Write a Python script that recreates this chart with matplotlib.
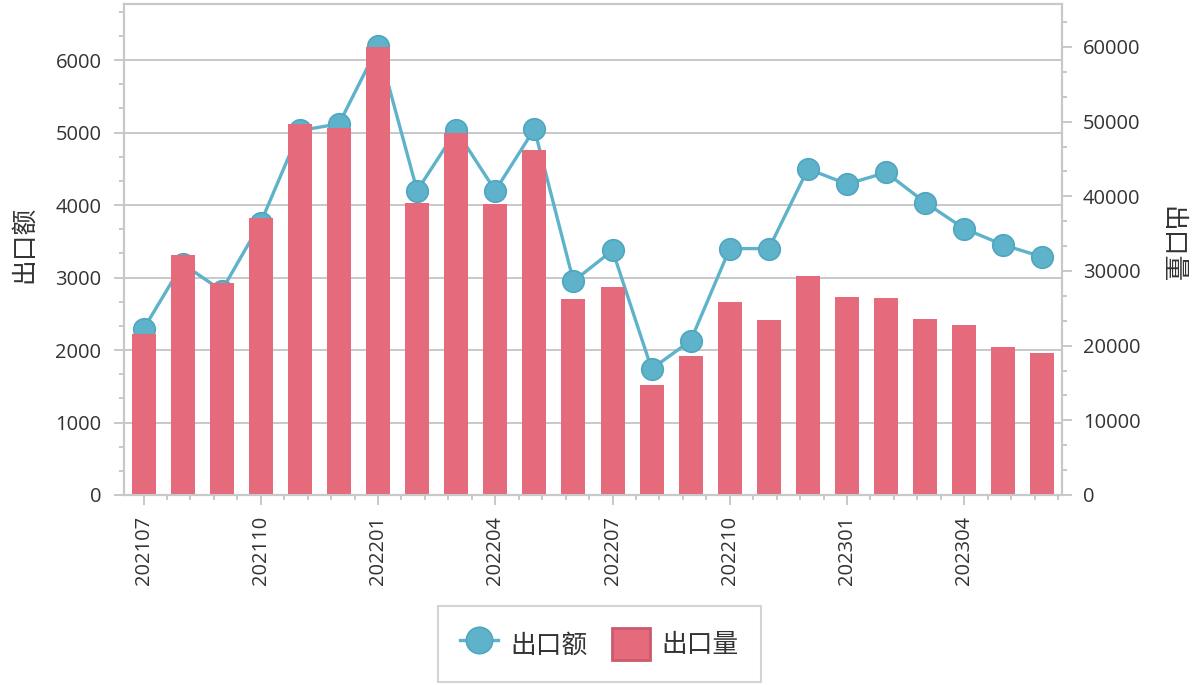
import matplotlib
matplotlib.use('Agg')
import matplotlib.pyplot as plt
from matplotlib.ticker import AutoMinorLocator, MultipleLocator
from matplotlib.lines import Line2D
from matplotlib.patches import Patch

months = ['202107', '202108', '202109', '202110', '202111', '202112',
          '202201', '202202', '202203', '202204', '202205', '202206',
          '202207', '202208', '202209', '202210', '202211', '202212',
          '202301', '202302', '202303', '202304', '202305', '202306']
# 出口额 (left axis)
export_value = [2290, 3190, 2820, 3760, 5030, 5120, 6190, 4200,
                5030, 4200, 5050, 2950, 3375, 1740, 2130, 3400,
                3400, 4500, 4290, 4450, 4035, 3675, 3450, 3285]
# 出口量 (right axis)
export_volume = [21570, 32080, 28410, 37050, 49660, 49130, 59950, 39150,
                 48420, 38930, 46170, 26310, 27920, 14770, 18660, 25910,
                 23490, 29260, 26580, 26440, 23580, 22820, 19870, 19060]

line_color = '#5eb3cb'
bar_color = '#e56a7c'
axis_gray = '#c8c8c8'
text_color = '#333333'
cjk = ['Noto Sans CJK SC', 'DejaVu Sans']

plt.rcParams['font.family'] = ['Open Sans', 'DejaVu Sans']

fig = plt.figure(figsize=(11.92, 6.85), dpi=100)
ax = fig.add_axes([124 / 1192, 1 - 495 / 685, (1062 - 124) / 1192, (495 - 4) / 685])
ax2 = ax.twinx()

x = list(range(len(months)))
ax.plot(x, export_value, color=line_color, lw=2.4, marker='o', markersize=15.5,
        markerfacecolor=line_color, markeredgecolor='#4ea6c0', markeredgewidth=1.2,
        zorder=3)
ax2.bar(x, export_volume, width=0.614, color=bar_color, zorder=2)

ax.set_xlim(-0.5, len(months) - 0.5)
ax.set_ylim(0, 6775)
ax2.set_ylim(0, 65750)

ax.set_xticks(range(0, len(months), 3))
ax.set_xticklabels([months[i] for i in range(0, len(months), 3)], rotation=90)
ax.xaxis.set_minor_locator(AutoMinorLocator(5))

ax.yaxis.set_major_locator(MultipleLocator(1000))
ax.yaxis.set_minor_locator(AutoMinorLocator(3))
ax2.yaxis.set_major_locator(MultipleLocator(10000))
ax2.yaxis.set_minor_locator(AutoMinorLocator(3))

ax.grid(axis='y', color=axis_gray, lw=1.4)
ax.set_axisbelow(True)

for a in (ax, ax2):
    for s in a.spines.values():
        s.set_color(axis_gray)
        s.set_linewidth(1.5)
    a.tick_params(which='major', length=7.2, width=1.4, color=axis_gray,
                  labelsize=14.5, labelcolor=text_color)
    a.tick_params(which='minor', length=3.6, width=1.4, color=axis_gray)
ax.tick_params(axis='y', pad=9)
ax.tick_params(axis='x', pad=8)
ax2.tick_params(axis='y', pad=8)

ax.set_ylabel('出口额', family=cjk, fontsize=18.5, color=text_color, va='center')
ax2.set_ylabel('出口量', family=cjk, fontsize=18.5, color=text_color,
               rotation=270, va='center')
ax.yaxis.set_label_coords(-0.106, 0.51)
ax2.yaxis.set_label_coords(1.117, 0.51)

handles = [
    Line2D([0], [0], color=line_color, lw=2.4, marker='o', markersize=19,
           markerfacecolor=line_color, markeredgecolor='#4ea6c0', markeredgewidth=1.2),
    Patch(facecolor=bar_color, edgecolor='#c95b6d', lw=2),
]
leg = fig.legend(handles, ['出口额', '出口量'], loc='center', ncol=2,
                 bbox_to_anchor=(599.5 / 1192, 1 - 644 / 685),
                 prop={'family': cjk, 'size': 18.5}, frameon=True, fancybox=False,
                 edgecolor=axis_gray, handlelength=1.5, handleheight=1.5,
                 handletextpad=0.45, columnspacing=0.95, borderpad=0.85)
leg.get_frame().set_linewidth(1.5)
for t in leg.get_texts():
    t.set_color(text_color)

fig.savefig('out.png', dpi=100)
